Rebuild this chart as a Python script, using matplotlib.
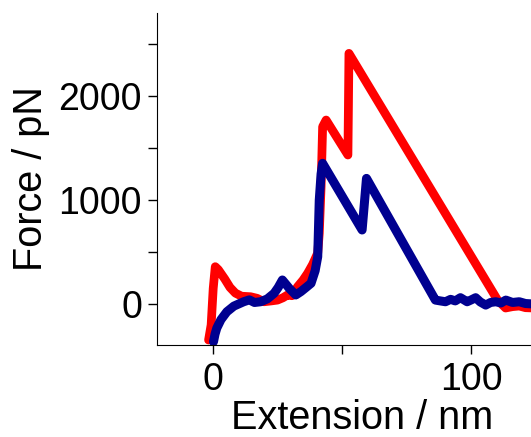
import matplotlib
matplotlib.use("Agg")
import matplotlib.pyplot as plt
from matplotlib.ticker import MultipleLocator

plt.rcParams['font.family'] = ['Liberation Sans', 'DejaVu Sans']

# extension (nm) / force (pN)
red_x = [-1.8, -0.8, 0.0, 0.8, 2.0, 4.5, 6.5, 8.6, 11.0, 14.5, 17.0, 19.7, 22.5,
         24.9, 27.0, 28.8, 30.5, 32.7, 34.8, 36.6, 38.5, 40.5, 41.1, 41.8,
         42.4, 43.75, 48.0, 52.2, 52.4, 52.6, 110.2, 113.3, 116.0, 118.6,
         121.0, 124.2]
red_y = [-346, -200, 150, 359, 330, 240, 160, 105, 75, 70, 55, 22, 30,
         38, 60, 87, 80, 167, 230, 296, 380, 490, 680, 1128,
         1705, 1769, 1600, 1433, 1900, 2410, 38, -38, -25, -19,
         -35, -38]

blue_x = [0.1, 0.7, 1.4, 3.0, 5.3, 8.0, 11.8, 14.0, 16.0, 18.4, 21.0, 23.6,
          25.2, 26.8, 29.5, 32.0, 34.0, 36.0, 37.9, 39.5, 40.5, 41.1,
          41.8, 42.4, 57.7, 59.4, 86.1, 88.0, 90.0, 92.0, 93.8, 95.8,
          98.4, 100.0, 101.7, 103.5, 105.6, 107.5, 109.5, 111.5, 113.4,
          116.0, 118.6, 121.0, 124.2]
blue_y = [-363, -290, -231, -150, -74, -20, 22, 40, 15, 22, 50, 103,
          160, 231, 150, 87, 120, 160, 199, 320, 455, 1000,
          1250, 1353, 712, 1208, 38, 30, 22, 45, 30, 61,
          22, 40, 61, 20, -10, 15, 22, 10, 38,
          15, 22, 5, 0]

fig = plt.figure(figsize=(5.31, 4.37), dpi=100)
ax = fig.add_axes([0.2951, 0.2105, 0.71, 0.7597])

ax.plot(red_x, red_y, color='#FF0000', lw=6.3, solid_capstyle='round', solid_joinstyle='round')
ax.plot(blue_x, blue_y, color='#000090', lw=6.5, solid_capstyle='round', solid_joinstyle='round')

ax.set_xlim(-21.9, 124.2)
ax.set_ylim(-394, 2798)

ax.xaxis.set_major_locator(MultipleLocator(100))
ax.xaxis.set_minor_locator(MultipleLocator(50))
ax.yaxis.set_major_locator(MultipleLocator(1000))
ax.yaxis.set_minor_locator(MultipleLocator(500))
ax.tick_params(which='both', direction='out', length=6.5, width=1, labelsize=27)
ax.tick_params(axis='y', pad=4)
ax.tick_params(axis='x', pad=6)

for s in ['top', 'right']:
    ax.spines[s].set_visible(False)

ax.set_xlabel("Extension / nm", fontsize=28.5)
ax.xaxis.set_label_coords(0.545, -0.252, transform=ax.transAxes)
ax.xaxis.label.set_va('baseline')
ax.set_ylabel("Force / pN", fontsize=28.5, labelpad=6)

fig.savefig("out.png", dpi=100)
